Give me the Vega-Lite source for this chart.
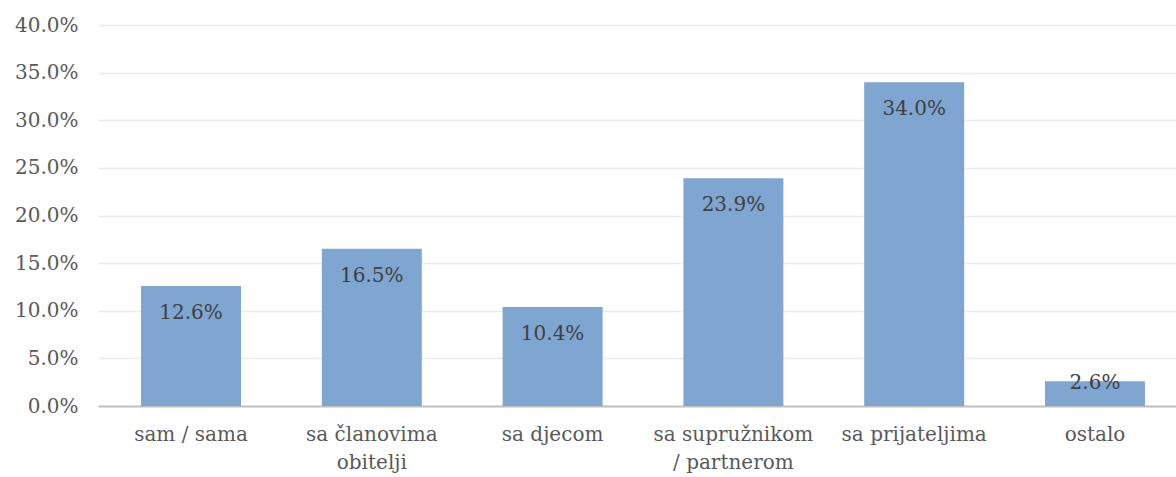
{
  "$schema": "https://vega.github.io/schema/vega-lite/v6.json",
  "autosize": "none",
  "width": 1078,
  "height": 381,
  "padding": {"left": 98, "top": 25, "right": 0, "bottom": 71},
  "background": "white",
  "config": {"view": {"stroke": null}, "font": "DejaVu Serif"},
  "data": {"values": [
    {"kategorija": "sam / sama", "udio": 0.126},
    {"kategorija": "sa članovima obitelji", "udio": 0.165},
    {"kategorija": "sa djecom", "udio": 0.104},
    {"kategorija": "sa supružnikom / partnerom", "udio": 0.239},
    {"kategorija": "sa prijateljima", "udio": 0.340},
    {"kategorija": "ostalo", "udio": 0.026}
  ]},
  "encoding": {
    "x": {"field": "kategorija", "type": "nominal", "sort": null,
      "scale": {"paddingInner": 0.447, "paddingOuter": 0.238, "range": [0, 1090]},
      "axis": {"title": null, "labelAngle": 0, "ticks": false, "domainColor": "#bfbfbf", "domainWidth": 2,
        "labelFont": "DejaVu Serif", "labelFontSize": 20, "labelColor": "#595959", "labelPadding": 18, "labelLineHeight": 28,
        "labelExpr": "datum.value == 'sa članovima obitelji' ? ['sa članovima', 'obitelji'] : datum.value == 'sa supružnikom / partnerom' ? ['sa supružnikom', '/ partnerom'] : datum.value"}},
    "y": {"field": "udio", "type": "quantitative",
      "scale": {"domain": [0, 0.4]},
      "axis": {"title": null, "format": ".1%", "values": [0, 0.05, 0.1, 0.15, 0.2, 0.25, 0.3, 0.35, 0.4], "labelOverlap": false, "domain": false, "ticks": false, "gridColor": "#ebebeb", "gridWidth": 1.5,
        "labelFont": "DejaVu Serif", "labelFontSize": 20, "labelColor": "#595959", "labelPadding": 20}}
  },
  "layer": [
    {"mark": {"type": "bar", "color": "#7fa6d1"}},
    {"transform": [{"filter": "datum.udio > 0.05"}],
     "mark": {"type": "text", "baseline": "middle", "dy": 27, "font": "DejaVu Serif", "fontSize": 20, "color": "#404040"},
     "encoding": {"text": {"field": "udio", "type": "quantitative", "format": ".1%"}}},
    {"transform": [{"filter": "datum.udio <= 0.05"}],
     "mark": {"type": "text", "baseline": "middle", "dy": 2, "font": "DejaVu Serif", "fontSize": 20, "color": "#404040"},
     "encoding": {"text": {"field": "udio", "type": "quantitative", "format": ".1%"}}}
  ]
}
